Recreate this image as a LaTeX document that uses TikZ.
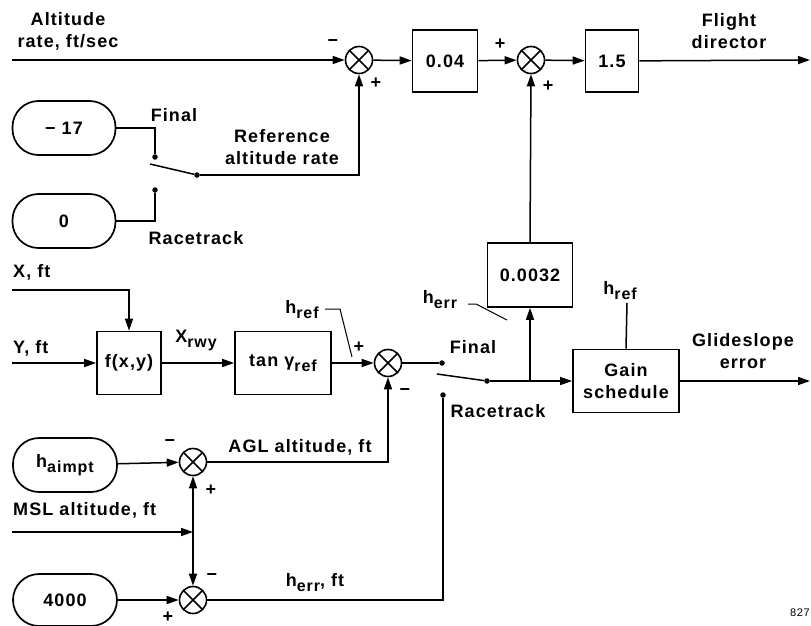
\documentclass[tikz,border=0pt]{standalone}
\usepackage{fontspec}
\setmainfont[LetterSpace=6]{Liberation Sans}
\usetikzlibrary{arrows.meta}
\newcommand\fnt{\fontsize{18}{22}\selectfont\bfseries}
\newcommand\sbs[1]{\raisebox{-5pt}{\fontsize{16}{16}\selectfont #1}}
\tikzset{
  wire/.style={line width=1.5pt},
  arr/.style={line width=1.5pt,-{Triangle[length=12pt,width=8pt]}},
  blk/.style={draw,line width=1.7pt,inner sep=0pt,font=\fnt,align=center},
  term/.style={draw,line width=1.7pt,rounded corners=26pt,inner sep=0pt,font=\fnt,minimum width=103pt,minimum height=54pt},
  sumj/.style={circle,draw,line width=1.6pt,minimum size=27pt,inner sep=0pt,
    path picture={\draw[line width=1.6pt] (path picture bounding box.north west)--(path picture bounding box.south east)
      (path picture bounding box.north east)--(path picture bounding box.south west);}},
  lbl/.style={inner sep=0pt,font=\fnt,align=center},
  sgn/.style={inner sep=0pt,font=\fnt},
  dot/.style={circle,fill,inner sep=0pt,minimum size=5.5pt}
}
\begin{document}
\begin{tikzpicture}[x=1pt,y=-1pt]
\useasboundingbox (0,0) rectangle (811,626);
% junctions
\node[sumj] (S1) at (359,60) {};
\node[sumj] (S2) at (531,60) {};
\node[sumj] (S3) at (388,363) {};
\node[sumj] (S4) at (193,462) {};
\node[sumj] (S5) at (193,600) {};
% blocks
\node[blk,minimum width=65pt,minimum height=62pt] (b004) at (445,61) {0.04};
\node[blk,minimum width=53pt,minimum height=62pt] (b15) at (612,61) {1.5};
\node[blk,minimum width=64pt,minimum height=63pt] (fxy) at (129,363) {f(x,y)};
\node[blk,minimum width=96pt,minimum height=63pt] (tang) at (283,363) {tan γ\sbs{ref}};
\node[blk,minimum width=85pt,minimum height=64pt] (b0032) at (530,275) {0.0032};
\node[blk,minimum width=106pt,minimum height=63pt] (gain) at (626,381) {Gain\\schedule};
% terminators
\node[term] (t17) at (64,128) {− 17};
\node[term] (t0) at (64,221) {0};
\node[term,minimum width=104pt] (tha) at (65,465) {h\sbs{aimpt}};
\node[term,minimum width=104pt,minimum height=52pt] (t4000) at (65,600) {4000};
% coordinates
\coordinate (inA) at (12,60);
\coordinate (outF) at (810,60);
\coordinate (outG) at (810,381);
\coordinate (inX) at (12,290);
\coordinate (cX) at (129,290);
\coordinate (inY) at (12,363);
\coordinate (inM) at (12,532);
\coordinate (jM) at (193,532);
\coordinate (cAGL) at (388,462);
\coordinate (cErr) at (443,600);
\coordinate (br) at (530,381);
\coordinate (c17) at (155,128);
\coordinate (c0) at (155,221);
\coordinate (cRef) at (359,175);
\node[dot] (d1F) at (155,157) {};
\node[dot] (d1R) at (155,190) {};
\node[dot] (p1) at (197,175) {};
\coordinate (a1) at (150,164);
\node[dot] (d2F) at (442,363) {};
\node[dot] (d2R) at (443,395) {};
\node[dot] (p2) at (487,381) {};
\coordinate (a2) at (437,374);
% top row
\draw[arr] (inA) -- (S1);
\draw[arr] (S1) -- (b004);
\draw[arr] (b004) -- (S2);
\draw[arr] (S2) -- (b15);
\draw[arr] (b15) -- (outF);
% upper switch
\draw[wire] (t17.east) -- (c17) -- (d1F);
\draw[wire] (t0.east) -- (c0) -- (d1R);
\draw[wire] (a1) -- (p1);
\draw[arr] (p1) -- (cRef) -- (S1.south);
% middle
\draw[arr] (inX) -- (cX) -- (fxy.north);
\draw[arr] (inY) -- (fxy.west);
\draw[arr] (fxy) -- (tang);
\draw[arr] (tang) -- (S3);
\draw[wire] (S3.east) -- (d2F);
\draw[wire] (a2) -- (p2);
\draw[arr] (p2) -- (gain.west);
\draw[arr] (br) -- (b0032.south);
\draw[arr] (b0032.north) -- (S2.south);
\draw[arr] (gain.east) -- (outG);
% bottom
\draw[arr] (tha) -- (S4);
\draw[arr] (t4000) -- (S5);
\draw[arr] (inM) -- (jM);
\draw[arr] (jM) -- (S4.south);
\draw[arr] (jM) -- (S5.north);
\draw[arr] (S4.east) -- (cAGL) -- (S3.south);
\draw[wire] (S5.east) -- (cErr) -- (d2R);
% leaders
\draw[line width=1pt] (325,309) -- (340,309) -- (352,357);
\draw[line width=1pt] (468,304) -- (476,304) -- (507,320);
\draw[wire] (627,303) -- (gain.north);
% labels
\node[lbl] (lAlt) at (68,31) {Altitude\\rate, ft/sec};
\node[lbl] (lFD) at (729,31) {Flight\\director};
\node[sgn] (s1m) at (333,43) {−};
\node[sgn] (s1p) at (376,83) {+};
\node[sgn] (s2a) at (500,44) {+};
\node[sgn] (s2b) at (548,86) {+};
\node[lbl] (lF1) at (174,115) {Final};
\node[lbl] (lRef) at (282,147) {Reference\\altitude rate};
\node[lbl] (lR1) at (196,238) {Racetrack};
\node[lbl,anchor=west] (lX) at (13,272) {X, ft};
\node[lbl,anchor=west] (lY) at (13,348) {Y, ft};
\node[lbl] (lXr) at (196,340) {X\sbs{rwy}};
\node[lbl] (lhr1) at (302,310) {h\sbs{ref}};
\node[sgn] (s3p) at (359,347) {+};
\node[sgn] (s3m) at (405,392) {−};
\node[lbl] (lF2) at (473,347) {Final};
\node[lbl] (lR2) at (498,411) {Racetrack};
\node[lbl] (lhe) at (440,300) {h\sbs{err}};
\node[lbl] (lhr2) at (620,291) {h\sbs{ref}};
\node[lbl] (lGE) at (743,351) {Glideslope\\error};
\node[sgn] (s4m) at (170,443) {−};
\node[sgn] (s4p) at (211,490) {+};
\node[lbl] (lAGL) at (300,447) {AGL altitude, ft};
\node[lbl,anchor=west] (lMSL) at (13,510) {MSL altitude, ft};
\node[sgn] (s5m) at (212,577) {−};
\node[sgn] (s5p) at (168,617) {+};
\node[lbl] (lhef) at (315,583) {h\sbs{err}, ft};
\node[anchor=east,inner sep=0pt,font=\fontsize{11}{11}\selectfont] (fig) at (810,613) {827};
\end{tikzpicture}
\end{document}
